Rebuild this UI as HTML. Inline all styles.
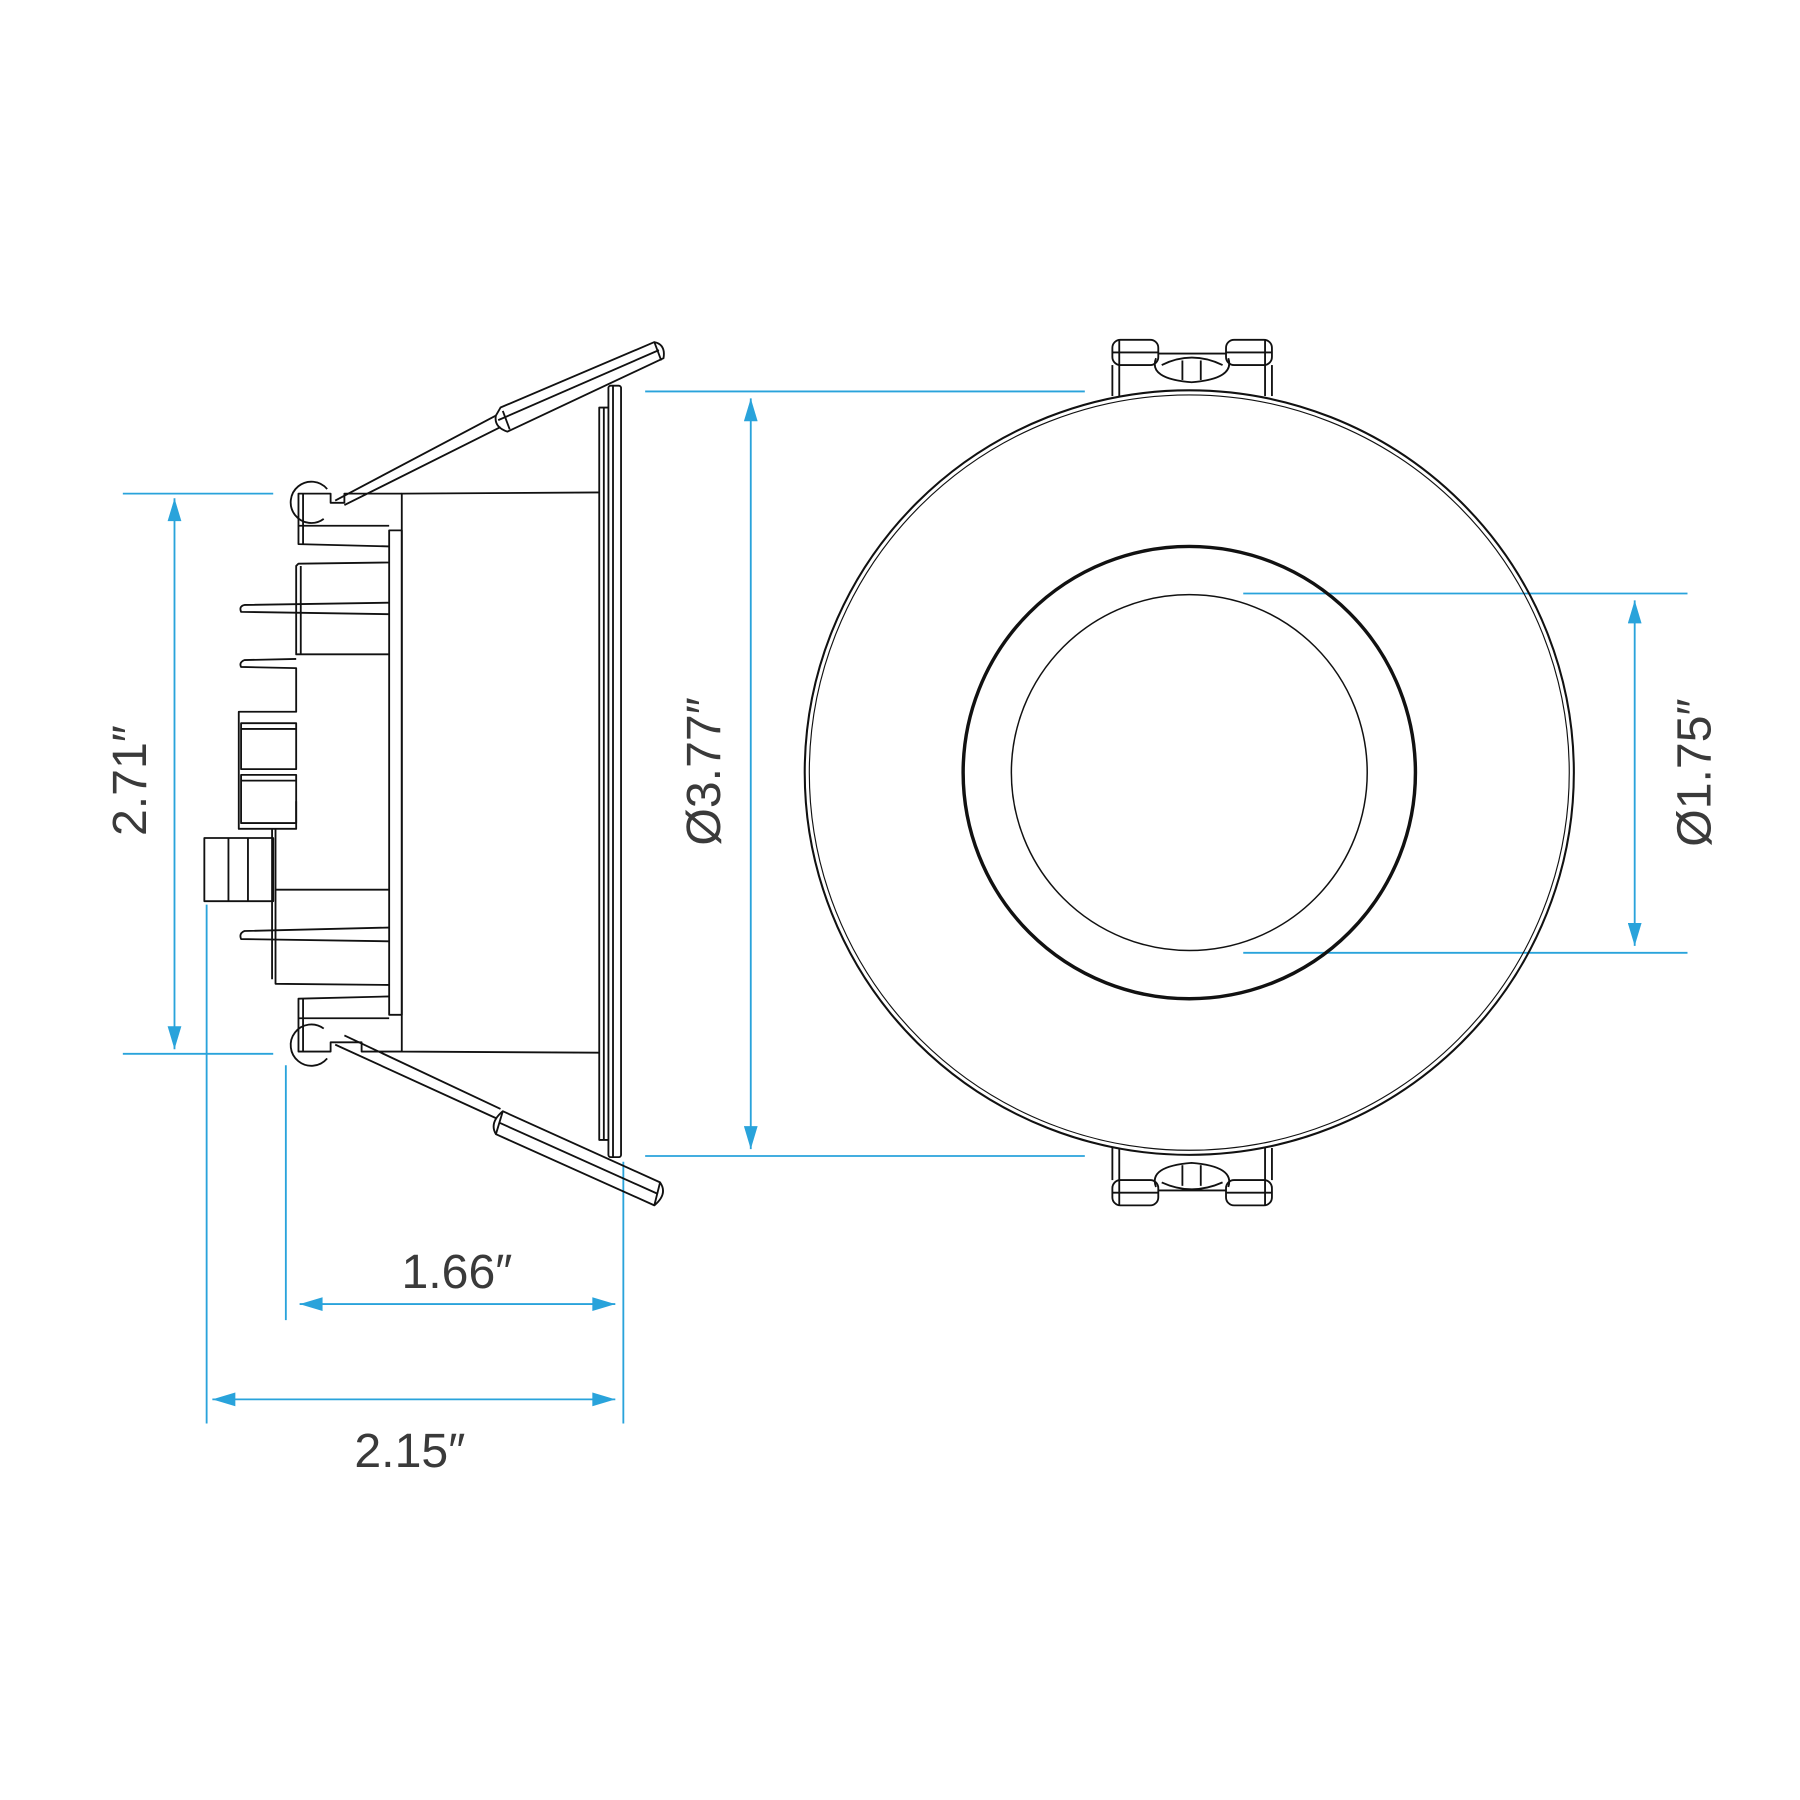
<!DOCTYPE html>
<html><head><meta charset="utf-8"><style>
html,body{margin:0;padding:0;background:#fff;}
svg{display:block;}
text{font-family:"Liberation Sans",sans-serif;fill:#3a3a3a;font-weight:normal;}
</style></head><body>
<svg width="1800" height="1800" viewBox="0 0 1568 1568" xmlns="http://www.w3.org/2000/svg">
<defs>
<marker id="b" viewBox="0 0 20 12" refX="20" refY="6" markerWidth="22" markerHeight="12" orient="auto-start-reverse" markerUnits="userSpaceOnUse">
<path d="M0,0 L20,6 L0,12 z" fill="#29a3db"/></marker>
</defs>
<g stroke="#29a3db" stroke-width="1.6" fill="none">
<line x1="107" y1="430" x2="238" y2="430"/>
<line x1="107" y1="918" x2="238" y2="918"/>
<line x1="152" y1="434" x2="152" y2="914" marker-start="url(#b)" marker-end="url(#b)"/>
<line x1="249" y1="928" x2="249" y2="1150"/>
<line x1="543" y1="1012" x2="543" y2="1240"/>
<line x1="180" y1="788" x2="180" y2="1240"/>
<line x1="261" y1="1136" x2="536" y2="1136" marker-start="url(#b)" marker-end="url(#b)"/>
<line x1="185" y1="1219" x2="536" y2="1219" marker-start="url(#b)" marker-end="url(#b)"/>
<line x1="562" y1="341" x2="945" y2="341"/>
<line x1="562" y1="1007" x2="945" y2="1007"/>
<line x1="654" y1="347" x2="654" y2="1001" marker-start="url(#b)" marker-end="url(#b)"/>
<line x1="1083" y1="517" x2="1470" y2="517"/>
<line x1="1083" y1="830" x2="1470" y2="830"/>
<line x1="1424" y1="523" x2="1424" y2="824" marker-start="url(#b)" marker-end="url(#b)"/>
</g>
<g font-size="42">
<text x="0" y="0" text-anchor="middle" transform="translate(127,680) rotate(-90)">2.71″</text>
<text x="0" y="0" text-anchor="middle" transform="translate(627,672) rotate(-90)">Ø3.77″</text>
<text x="0" y="0" text-anchor="middle" transform="translate(1490,673) rotate(-90)">Ø1.75″</text>
<text x="398" y="1122" text-anchor="middle">1.66″</text>
<text x="357" y="1278" text-anchor="middle">2.15″</text>
</g>
<g stroke="#111" stroke-width="1.6" fill="none" stroke-linejoin="round">
<rect x="530" y="336" width="11" height="672" rx="2"/>
<line x1="534" y1="336" x2="534" y2="1008"/>
<polyline points="530,355 522,355 522,993 530,993"/>
<line x1="526" y1="355" x2="526" y2="993"/>
<polyline points="522,429 350,430 350,916 522,917"/>
<rect x="339" y="462" width="11" height="422"/>
<polyline points="350,430 300,430 300,438 288,438 288,430 260,430 260,474 339,476"/>
<line x1="260" y1="458" x2="339" y2="458"/>
<line x1="264" y1="430" x2="264" y2="474"/>
<path d="M285,426 A18,18 0 1,0 282,452"/>
<polyline points="350,916 315,916 315,908 288,908 288,916 260,916 260,870 339,868"/>
<line x1="260" y1="887" x2="339" y2="887"/>
<line x1="264" y1="870" x2="264" y2="916"/>
<path d="M285,922 A18,18 0 1,1 282,896"/>
<polyline points="339,490 260,491 258,493 258,570 339,570"/>
<line x1="262" y1="493" x2="262" y2="570"/>
<path d="M339,525 L213,527 Q208,528 210,533 L339,535"/>
<path d="M258,574 L213,575 Q208,577 210,581 L258,582 L258,620 L208,620 L208,722 L258,722 L258,698"/>
<rect x="210" y="630" width="48" height="40"/><line x1="210" y1="635" x2="258" y2="635"/>
<rect x="210" y="675" width="48" height="42"/><line x1="210" y1="680" x2="258" y2="680"/>
<rect x="178" y="730" width="60" height="55"/>
<line x1="199" y1="730" x2="199" y2="785"/><line x1="216" y1="730" x2="216" y2="785"/>
<polyline points="240,722 240,857 339,858"/><line x1="237" y1="722" x2="237" y2="853"/>
<line x1="240" y1="775" x2="339" y2="775"/>
<path d="M339,808 L213,811 Q208,813 210,818 L339,820"/>
<path d="M292,436 L432,362 M300,440 L436,372"/>
<path d="M436,355 L570,298 Q580,300 578,312 L442,376 Q430,372 432,362 Z"/>
<line x1="438" y1="358" x2="444" y2="374"/><line x1="570" y1="298" x2="576" y2="314"/>
<line x1="434" y1="366" x2="574" y2="305"/>
<path d="M292,910 L432,974 M300,902 L436,966"/>
<path d="M438,968 L575,1030 Q582,1040 570,1050 L432,988 Q426,978 438,968 Z"/>
<line x1="438" y1="968" x2="432" y2="988"/><line x1="575" y1="1030" x2="570" y2="1050"/>
<line x1="435" y1="978" x2="573" y2="1040"/>
<ellipse cx="1036" cy="673" rx="335" ry="333" stroke-width="1.8"/>
<ellipse cx="1036" cy="673" rx="331" ry="329" stroke-width="1"/>
<circle cx="1036" cy="673" r="197" stroke-width="3"/>
<circle cx="1036" cy="673" r="155" stroke-width="1.3"/>
<rect x="969" y="296" width="40" height="22" rx="7"/><rect x="1068" y="296" width="40" height="22" rx="7"/>
<line x1="975" y1="296" x2="975" y2="345"/><line x1="1102" y1="296" x2="1102" y2="345"/>
<line x1="969" y1="307" x2="1009" y2="307"/><line x1="1068" y1="307" x2="1108" y2="307"/>
<line x1="969" y1="318" x2="969" y2="345"/><line x1="1108" y1="318" x2="1108" y2="345"/>
<line x1="1009" y1="308" x2="1068" y2="308"/>
<path d="M1007,312 Q1000,330 1038,333 Q1076,330 1070,312"/>
<path d="M1012,318 Q1038,305 1065,318"/>
<line x1="1030" y1="314" x2="1030" y2="331"/><line x1="1046" y1="314" x2="1046" y2="331"/>
<rect x="969" y="1028" width="40" height="22" rx="7"/><rect x="1068" y="1028" width="40" height="22" rx="7"/>
<line x1="975" y1="1000" x2="975" y2="1050"/><line x1="1102" y1="1000" x2="1102" y2="1050"/>
<line x1="969" y1="1039" x2="1009" y2="1039"/><line x1="1068" y1="1039" x2="1108" y2="1039"/>
<line x1="969" y1="1000" x2="969" y2="1028"/><line x1="1108" y1="1000" x2="1108" y2="1028"/>
<line x1="1009" y1="1037" x2="1068" y2="1037"/>
<path d="M1007,1034 Q1000,1016 1038,1013 Q1076,1016 1070,1034"/>
<path d="M1012,1030 Q1038,1042 1065,1030"/>
<line x1="1030" y1="1015" x2="1030" y2="1033"/><line x1="1046" y1="1015" x2="1046" y2="1033"/>
</g>
</svg>
</body></html>
